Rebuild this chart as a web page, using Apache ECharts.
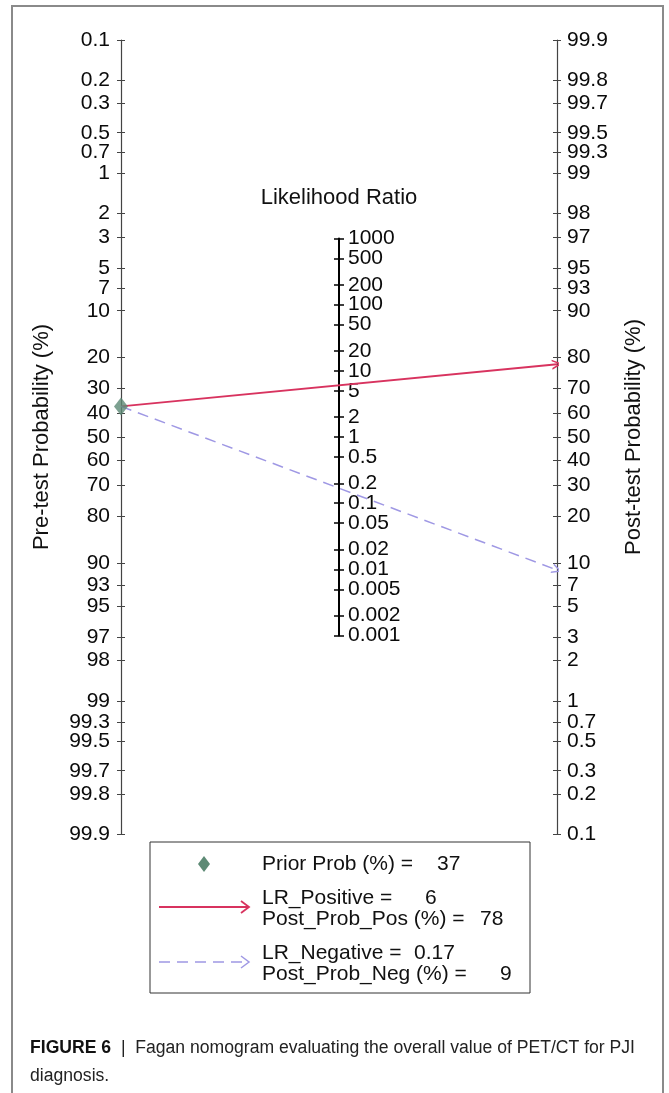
<!DOCTYPE html>
<html>
<head>
<meta charset="utf-8">
<script src="https://cdn.jsdelivr.net/npm/echarts@6/dist/echarts.min.js"></script>
<style>
  html, body { margin: 0; padding: 0; background: #fff; }
  #chart { width: 669px; height: 1093px; }
</style>
</head>
<body>
<div id="chart"></div>
<script>
    // tick labels (%), pre-test scale runs top->bottom, post-test bottom->top
    var preTicks = ['0.1', '0.2', '0.3', '0.5', '0.7', '1', '2', '3', '5', '7', '10', '20', '30', '40', '50',
                    '60', '70', '80', '90', '93', '95', '97', '98', '99', '99.3', '99.5', '99.7', '99.8', '99.9'];
    var postTicks = ['0.1', '0.2', '0.3', '0.5', '0.7', '1', '2', '3', '5', '7', '10', '20', '30', '40', '50',
                     '60', '70', '80', '90', '93', '95', '97', '98', '99', '99.3', '99.5', '99.7', '99.8', '99.9'];
    var lrTicks = ['0.001', '0.002', '0.005', '0.01', '0.02', '0.05', '0.1', '0.2', '0.5', '1', '2', '5',
                   '10', '20', '50', '100', '200', '500', '1000'];

    var priorProb = 37;
    var lrPos = 6;
    var postProbPos = 78;
    var lrNeg = 0.17;
    var postProbNeg = 9;

    var FONT = 'Liberation Sans, Arial, Helvetica, sans-serif';
    var RED = '#d8335f';
    var LAV = '#9f98e4';
    var GREEN = '#5d8a75';

    var chart = echarts.init(document.getElementById('chart'));

    function lg(p) { return Math.log(p / (100 - p)); }
    var LMAX = lg(99.9);

    // layout of the nomogram
    var T = 40, H = 794, AX_L = 121, AX_R = 557;
    var MID = (AX_L + AX_R) / 2;
    var C = T + H / 2;
    var k = H / (2 * LMAX);
    var lrLo = Math.log(+lrTicks[0]), lrHi = Math.log(+lrTicks[lrTicks.length - 1]);
    var lrTop = C - k / 2 * lrHi;
    var lrH = k / 2 * (lrHi - lrLo);

    var preVals = preTicks.map(function (t) { return lg(+t); });
    var postVals = postTicks.map(function (t) { return lg(+t); });
    var lrVals = lrTicks.map(function (t) { return Math.log(+t); });

    // echarts drops the label next to a forced min/max label when they touch,
    // so the 2nd and 2nd-last LR labels are drawn by the companion axis
    var lrEdge = [1, lrVals.length - 2];
    var lrValsA = lrVals.filter(function (v, i) { return lrEdge.indexOf(i) < 0; });
    var lrValsB = lrVals.filter(function (v, i) { return lrEdge.indexOf(i) >= 0; });

    function pick(vals, labels) {
        return function (v) {
            var best = 0;
            for (var i = 1; i < vals.length; i++) {
                if (Math.abs(vals[i] - v) < Math.abs(vals[best] - v)) best = i;
            }
            return labels[best];
        };
    }

    var labelStyle = { fontFamily: FONT, fontSize: 21, color: '#0a0a0a', lineHeight: 15,
                       showMinLabel: true, showMaxLabel: true, hideOverlap: false };
    var nameStyle = { fontFamily: FONT, fontSize: 22, color: '#111' };
    var legFont = '21px ' + FONT;

    var chevron = 'path://M0,10 L5,0 L10,10 L8.4,10 L5,3.2 L1.6,10 Z';

    function legText(x, y, s) {
        return { type: 'text', x: x, y: y, style: { text: s, font: legFont, fill: '#111', textVerticalAlign: 'middle', verticalAlign: 'middle' } };
    }

    var option = {
        animation: false,
        grid: [
            { left: AX_L, width: AX_R - AX_L, top: T, height: H },
            { left: MID, width: 1, top: lrTop, height: lrH }
        ],
        xAxis: [
            { gridIndex: 0, type: 'value', min: 0, max: 1, show: false },
            { gridIndex: 1, type: 'value', min: 0, max: 1, show: false }
        ],
        yAxis: [
            {   // pre-test
                gridIndex: 0, type: 'value', position: 'left', inverse: true,
                min: -LMAX, max: LMAX,
                name: 'Pre-test Probability (%)', nameLocation: 'middle', nameGap: 68, nameRotate: 90,
                nameTextStyle: nameStyle,
                axisLine: { show: true, lineStyle: { color: '#444', width: 1.2 } },
                axisTick: { show: true, inside: false, length: 4, customValues: preVals, lineStyle: { color: '#444' } },
                axisLabel: Object.assign({ margin: 11, customValues: preVals, formatter: pick(preVals, preTicks) }, labelStyle),
                splitLine: { show: false }
            },
            {   // post-test
                gridIndex: 0, type: 'value', position: 'right',
                min: -LMAX, max: LMAX,
                name: 'Post-test Probability (%)', nameLocation: 'middle', nameGap: 66, nameRotate: 90,
                nameTextStyle: nameStyle,
                axisLine: { show: true, lineStyle: { color: '#444', width: 1.2 } },
                axisTick: { show: true, inside: false, length: 4, customValues: postVals, lineStyle: { color: '#444' } },
                axisLabel: Object.assign({ margin: 10, customValues: postVals, formatter: pick(postVals, postTicks) }, labelStyle),
                splitLine: { show: false }
            },
            {   // inner half of the pre-test ticks
                gridIndex: 0, type: 'value', position: 'left', inverse: true, min: -LMAX, max: LMAX,
                axisLine: { show: false },
                axisTick: { show: true, inside: true, length: 4, customValues: preVals, lineStyle: { color: '#444' } },
                axisLabel: { show: false }, splitLine: { show: false }
            },
            {   // inner half of the post-test ticks
                gridIndex: 0, type: 'value', position: 'right', min: -LMAX, max: LMAX,
                axisLine: { show: false },
                axisTick: { show: true, inside: true, length: 4, customValues: postVals, lineStyle: { color: '#444' } },
                axisLabel: { show: false }, splitLine: { show: false }
            },
            {   // likelihood ratio
                gridIndex: 1, type: 'value', position: 'left', min: lrLo, max: lrHi,
                name: 'Likelihood Ratio', nameLocation: 'end', nameGap: 30,
                nameTextStyle: nameStyle,
                axisLine: { show: true, lineStyle: { color: '#000', width: 2 } },
                axisTick: { show: true, inside: false, length: 5, customValues: lrVals, lineStyle: { color: '#000', width: 1.5 } },
                axisLabel: Object.assign({ inside: true, margin: 9, customValues: lrValsA, formatter: pick(lrVals, lrTicks) }, labelStyle),
                splitLine: { show: false }
            },
            {   // inner half of the LR ticks + the two labels left out above
                gridIndex: 1, type: 'value', position: 'left', min: lrLo, max: lrHi,
                axisLine: { show: false },
                axisTick: { show: true, inside: true, length: 5, customValues: lrVals, lineStyle: { color: '#000', width: 1.5 } },
                axisLabel: Object.assign({ inside: true, margin: 9, customValues: lrValsB, formatter: pick(lrVals, lrTicks) }, labelStyle),
                splitLine: { show: false }
            }
        ],
        series: [
            {
                name: 'LR_Positive', type: 'lines', coordinateSystem: 'cartesian2d',
                xAxisIndex: 0, yAxisIndex: 1, z: 3,
                symbol: ['none', chevron], symbolSize: 10,
                lineStyle: { color: RED, width: 1.8, opacity: 1 },
                data: [{ coords: [[0, -lg(priorProb)], [1, lg(postProbPos)]] }]
            },
            {
                name: 'LR_Negative', type: 'lines', coordinateSystem: 'cartesian2d',
                xAxisIndex: 0, yAxisIndex: 1, z: 3,
                symbol: ['none', chevron], symbolSize: 10,
                lineStyle: { color: LAV, width: 1.5, type: [11, 7], opacity: 1 },
                data: [{ coords: [[0, -lg(priorProb)], [1, lg(postProbNeg)]] }]
            },
            {
                name: 'Prior Prob (%)', type: 'scatter', xAxisIndex: 0, yAxisIndex: 1, z: 5,
                symbol: 'diamond', symbolSize: [14, 18],
                itemStyle: { color: GREEN },
                data: [[0, -lg(priorProb)]]
            }
        ],
        graphic: [
            {   // figure frame
                type: 'polyline', silent: true,
                shape: { points: [[12, 1093], [12, 6], [663, 6], [663, 1093]] },
                style: { stroke: '#8a8a8a', lineWidth: 2, fill: null }
            },
            {   // legend box
                type: 'rect', shape: { x: 150, y: 842, width: 380, height: 151 },
                style: { fill: '#fff', stroke: '#333', lineWidth: 1 }
            },
            {
                type: 'polygon', shape: { points: [[204, 856], [210, 864], [204, 872], [198, 864]] },
                style: { fill: GREEN }
            },
            {
                type: 'line', shape: { x1: 159, y1: 907, x2: 248, y2: 907 },
                style: { stroke: RED, lineWidth: 1.8 }
            },
            {
                type: 'polyline', shape: { points: [[241, 901], [249, 907], [241, 913]] },
                style: { stroke: RED, lineWidth: 1.8, fill: null }
            },
            {
                type: 'line', shape: { x1: 159, y1: 962, x2: 248, y2: 962 },
                style: { stroke: LAV, lineWidth: 1.5, lineDash: [11, 7] }
            },
            {
                type: 'polyline', shape: { points: [[241, 956], [249, 962], [241, 968]] },
                style: { stroke: LAV, lineWidth: 1.5, fill: null }
            },
            legText(262, 864, 'Prior Prob (%) ='),
            legText(437, 864, String(priorProb)),
            legText(262, 898, 'LR_Positive ='),
            legText(425, 898, String(lrPos)),
            legText(262, 919, 'Post_Prob_Pos (%) ='),
            legText(480, 919, String(postProbPos)),
            legText(262, 953, 'LR_Negative ='),
            legText(414, 953, String(lrNeg)),
            legText(262, 974, 'Post_Prob_Neg (%) ='),
            legText(500, 974, String(postProbNeg)),
            {   // caption
                type: 'text', x: 30, y: 1048,
                style: {
                    text: '{b|FIGURE 6}  |  Fagan nomogram evaluating the overall value of PET/CT for PJI',
                    font: '17.6px ' + FONT, fill: '#222', textVerticalAlign: 'middle', verticalAlign: 'middle',
                    rich: { b: { fontWeight: 'bold', fontSize: 17.6, fontFamily: FONT, fill: '#111', color: '#111' } }
                }
            },
            { type: 'text', x: 30, y: 1076, style: { text: 'diagnosis.', font: '17.6px ' + FONT, fill: '#222', textVerticalAlign: 'middle', verticalAlign: 'middle' } }
        ]
    };

    chart.setOption(option);
</script>
</body>
</html>
